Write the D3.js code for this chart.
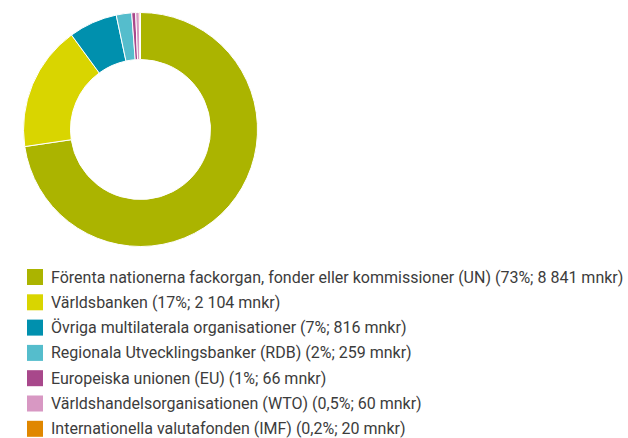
<!DOCTYPE html>
<html>
<head>
<meta charset="utf-8">
<script src="https://cdnjs.cloudflare.com/ajax/libs/d3/7.8.5/d3.min.js"></script>
<style>
  body { margin: 0; background: #fff; }
  text { font-family: Roboto, "Noto Sans", sans-serif; fill: #3c3c3c; }
</style>
</head>
<body>
<div id="chart"></div>
<script>
// Data
var labels = [
    "Förenta nationerna fackorgan, fonder eller kommissioner (UN) (73%; 8 841 mnkr)",
    "Världsbanken (17%; 2 104 mnkr)",
    "Övriga multilaterala organisationer (7%; 816 mnkr)",
    "Regionala Utvecklingsbanker (RDB) (2%; 259 mnkr)",
    "Europeiska unionen (EU) (1%; 66 mnkr)",
    "Världshandelsorganisationen (WTO) (0,5%; 60 mnkr)",
    "Internationella valutafonden (IMF) (0,2%; 20 mnkr)"
];
var values = [8841, 2104, 816, 259, 66, 60, 20];
var colors = ["#abb400", "#d9d500", "#0090ae", "#55bdcc", "#a8488b", "#d898c3", "#e08700"];

var width = 628,
    height = 438;

var svg = d3.select("#chart").append("svg")
    .attr("width", width)
    .attr("height", height);

var color = d3.scaleOrdinal()
    .domain(d3.range(values.length))
    .range(colors);

// Donut
var pie = d3.pie().sort(null).value(function (d) { return d; });
var arc = d3.arc().innerRadius(70).outerRadius(117);

svg.append("g")
    .attr("transform", "translate(140.5,129.5)")
    .selectAll("path")
    .data(pie(values))
    .enter().append("path")
        .attr("d", arc)
        .attr("fill", function (d, i) { return color(i); })
        .attr("stroke", "#fff")
        .attr("stroke-width", 1);

// Legend
var y = d3.scaleLinear().domain([0, 1]).range([269, 294.3]);

var legend = svg.append("g")
    .selectAll("g")
    .data(labels)
    .enter().append("g")
        .attr("transform", function (d, i) { return "translate(27," + y(i) + ")"; });

legend.append("rect")
    .attr("width", 16)
    .attr("height", 16)
    .attr("fill", function (d, i) { return color(i); });

legend.append("text")
    .attr("x", 24)
    .attr("y", 13.5)
    .style("font-size", "16px")
    .text(function (d) { return d; });
</script>
</body>
</html>
